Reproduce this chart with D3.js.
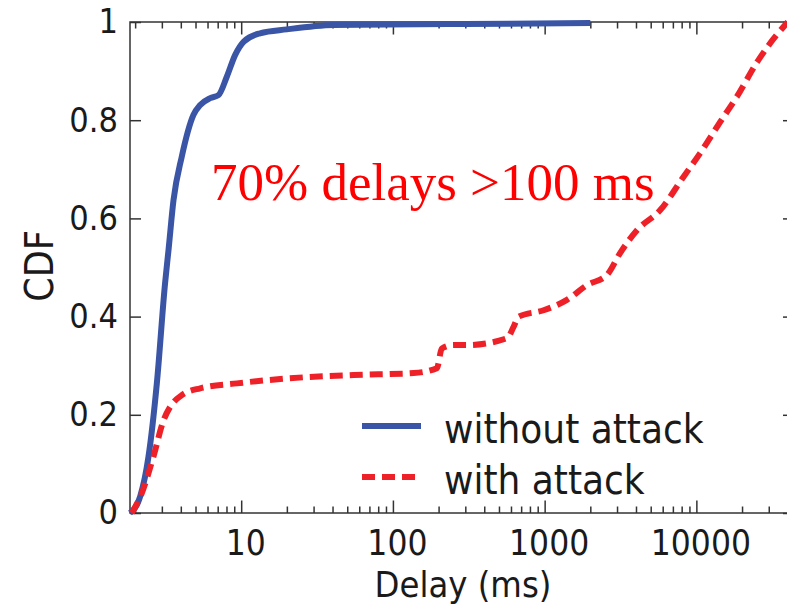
<!DOCTYPE html>
<html>
<head>
<meta charset="utf-8">
<script src="https://cdn.jsdelivr.net/npm/d3@7"></script>
<style>
  body { margin: 0; background: #fff; }
  svg { display: block; }
  .axis text { font-family: "DejaVu Sans", sans-serif; font-stretch: condensed; fill: #1a1a1a; }
  .axis line { stroke: #333; stroke-width: 1.5; }
  .axis path { display: none; }
  .label { font-family: "DejaVu Sans", sans-serif; font-stretch: condensed; fill: #1a1a1a; }
</style>
</head>
<body>
<svg width="787" height="605"></svg>
<script>
// without attack
const delaysNoAttack = [1.85, 2.16, 2.45, 2.78, 3.15, 3.32, 3.58, 4.06, 4.85, 5.37, 6.25, 7.08, 8.05, 9.13, 10.4, 13.3, 20, 40.6, 91, 300, 2000];
const cdfNoAttack    = [0, 0.034, 0.115, 0.264, 0.468, 0.536, 0.637, 0.726, 0.811, 0.831, 0.845, 0.851, 0.889, 0.933, 0.960, 0.977, 0.985, 0.994, 0.995, 0.996, 0.998];

// with attack
const delaysAttack = [1.9, 2.21, 2.64, 3.08, 3.40, 4.06, 5.37, 9.37, 20, 55, 137, 195, 210, 251, 307, 565, 624, 673, 984, 1402, 1900, 2577, 3150, 4060, 5780, 8240, 10600, 14400, 18500, 25100, 29200, 40000];
const cdfAttack    = [0, 0.04, 0.115, 0.189, 0.216, 0.240, 0.254, 0.264, 0.274, 0.281, 0.285, 0.295, 0.335, 0.342, 0.342, 0.356, 0.379, 0.400, 0.413, 0.434, 0.464, 0.485, 0.530, 0.576, 0.617, 0.685, 0.733, 0.797, 0.848, 0.918, 0.948, 1.0];

const xMajorTicks = [10, 100, 1000, 10000];
const yTicks = [0, 0.2, 0.4, 0.6, 0.8, 1];
const seriesNames = ["without attack", "with attack"];

const svg = d3.select("svg"),
    plotLeft = 130, plotRight = 794, plotTop = 22, plotBottom = 513;

const xScale = d3.scaleLog().domain([1.85, 44000]).range([plotLeft, plotRight]),
    yScale = d3.scaleLinear().domain([0, 1]).range([plotBottom, plotTop]);

// minor ticks 2..9 of every decade inside the domain
const xMinorTicks = [];
[1, 10, 100, 1000, 10000].forEach(function(p) {
  for (let k = 2; k <= 9; k++) {
    const v = k * p;
    if (v > 1.85 && v < 44000) xMinorTicks.push(v);
  }
});

const fmt = function(d) { return d === 1 || d === 0 ? String(d) : d3.format(".1f")(d); };

// bottom axis
svg.append("g")
    .attr("class", "axis")
    .attr("transform", "translate(0," + plotBottom + ")")
    .call(d3.axisBottom(xScale).tickValues(xMinorTicks).tickSize(-6.5).tickFormat(""));
const xAx = svg.append("g")
    .attr("class", "axis")
    .attr("transform", "translate(0," + plotBottom + ")")
    .call(d3.axisBottom(xScale).tickValues(xMajorTicks).tickSize(-12.5).tickPadding(17).tickFormat(d3.format("d")));
xAx.selectAll("text").style("font-size", "35px").attr("dx", "4");

// top axis
svg.append("g")
    .attr("class", "axis")
    .attr("transform", "translate(0," + plotTop + ")")
    .call(d3.axisTop(xScale).tickValues(xMinorTicks).tickSize(-6.5).tickFormat(""));
svg.append("g")
    .attr("class", "axis")
    .attr("transform", "translate(0," + plotTop + ")")
    .call(d3.axisTop(xScale).tickValues(xMajorTicks).tickSize(-12.5).tickFormat(""));

// left axis
const yAx = svg.append("g")
    .attr("class", "axis")
    .attr("transform", "translate(" + plotLeft + ",0)")
    .call(d3.axisLeft(yScale).tickValues(yTicks).tickSize(-11).tickPadding(12).tickFormat(fmt));
yAx.selectAll("text").style("font-size", "34px");

// right axis
svg.append("g")
    .attr("class", "axis")
    .attr("transform", "translate(" + plotRight + ",0)")
    .call(d3.axisRight(yScale).tickValues(yTicks).tickSize(-11).tickFormat(""));

// frame
svg.append("rect")
    .attr("x", plotLeft).attr("y", plotTop)
    .attr("width", plotRight - plotLeft).attr("height", plotBottom - plotTop)
    .attr("fill", "none").attr("stroke", "#333").attr("stroke-width", 1.5);

// axis titles
svg.append("text")
    .attr("class", "label")
    .attr("x", 463).attr("y", 597)
    .attr("text-anchor", "middle")
    .style("font-size", "36px")
    .text("Delay (ms)");

svg.append("text")
    .attr("class", "label")
    .attr("transform", "translate(53,266) rotate(-90)")
    .attr("text-anchor", "middle")
    .style("font-size", "39px")
    .text("CDF");

// curves
const line = d3.line()
    .x(function(d) { return xScale(d.delay); })
    .y(function(d) { return yScale(d.cdf); })
    .curve(d3.curveMonotoneX);

const noAttack = delaysNoAttack.map(function(d, i) { return {delay: d, cdf: cdfNoAttack[i]}; });
const attack = delaysAttack.map(function(d, i) { return {delay: d, cdf: cdfAttack[i]}; });

svg.append("path")
    .datum(noAttack)
    .attr("d", line)
    .attr("fill", "none")
    .attr("stroke", "#3b55a6")
    .attr("stroke-width", 6);

svg.append("path")
    .datum(attack)
    .attr("d", line)
    .attr("fill", "none")
    .attr("stroke", "#ee2128")
    .attr("stroke-width", 6)
    .attr("stroke-dasharray", "13,7");

// annotation
svg.append("text")
    .attr("x", 211).attr("y", 200)
    .style("font-family", "'Liberation Serif', 'Times New Roman', serif")
    .style("font-size", "53px")
    .attr("fill", "#ff0000")
    .text("70% delays >100 ms");

// legend
const legend = svg.append("g").attr("class", "legend");
const legendItems = [
  {name: seriesNames[0], color: "#3b55a6", dash: null, y: 426},
  {name: seriesNames[1], color: "#ee2128", dash: "13,7", y: 477}
];
legendItems.forEach(function(d) {
  legend.append("line")
      .attr("x1", 362).attr("x2", 421)
      .attr("y1", d.y).attr("y2", d.y)
      .attr("stroke", d.color)
      .attr("stroke-width", 6)
      .attr("stroke-dasharray", d.dash);
  legend.append("text")
      .attr("class", "label")
      .attr("x", 444).attr("y", d.y + 17)
      .style("font-size", "40px")
      .text(d.name);
});
</script>
</body>
</html>
